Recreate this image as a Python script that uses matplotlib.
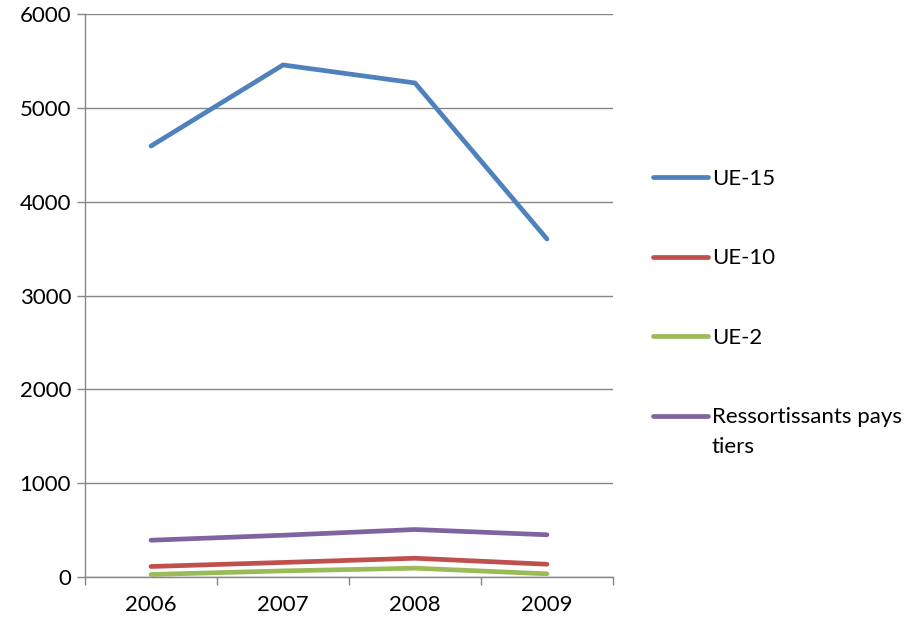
import matplotlib
matplotlib.use("Agg")
import matplotlib.pyplot as plt
import numpy as np

years = ["2006", "2007", "2008", "2009"]
ue15 = [4593, 5457, 5265, 3602]
ue10 = [112, 155, 200, 136]
ue2 = [27, 65, 94, 34]
tiers = [392, 445, 506, 450]

labels = ["UE-15", "UE-10", "UE-2", "Ressortissants pays"]
colors = ["#4F81BD", "#C0504D", "#9BBB59", "#8064A2"]

plt.rcParams["font.family"] = ["Lato", "DejaVu Sans"]

fig = plt.figure(figsize=(9.24, 6.25), dpi=100)
ax = fig.add_axes([0.092, 0.0768, 0.5714, 0.9008])

x = np.arange(len(years))
for vals, lab, col in zip([ue15, ue10, ue2, tiers], labels, colors):
    ax.plot(x, vals, color=col, lw=3.4, label=lab, solid_capstyle="round")

ax.set_xlim(-0.5, len(years) - 0.5)
ax.set_ylim(0, 6000)
ax.set_yticks(np.arange(0, 6001, 1000))
ax.set_xticks(x)
ax.set_xticklabels(years)
ax.set_xticks(np.arange(-0.5, len(years)), minor=True)
ax.tick_params(axis="x", which="major", length=0, pad=13, labelsize=16)
ax.tick_params(axis="x", which="minor", length=6, color="#868686", width=1)
ax.tick_params(axis="y", length=6, color="#868686", width=1, labelsize=16, pad=4)

ax.grid(axis="y", color="#868686", lw=1)
ax.set_axisbelow(True)
for s in ["top", "right"]:
    ax.spines[s].set_visible(False)
for s in ["left", "bottom"]:
    ax.spines[s].set_color("#868686")
    ax.spines[s].set_linewidth(1)

leg = fig.legend(loc="upper left", bbox_to_anchor=(0.707, 0.730), frameon=False,
                 fontsize=16, handlelength=2.45, handletextpad=0.18,
                 labelspacing=2.68, borderaxespad=0, borderpad=0)
for line in leg.get_lines():
    line.set_linewidth(3.4)

# second line of the last legend label, wrapped like the original
fig.canvas.draw()
bb = leg.get_texts()[3].get_window_extent()
fig.text(bb.x0 / fig.bbox.width, (bb.y0 - 30) / fig.bbox.height, "tiers",
         fontsize=16, ha="left", va="bottom")

fig.savefig("out.png", dpi=100)
